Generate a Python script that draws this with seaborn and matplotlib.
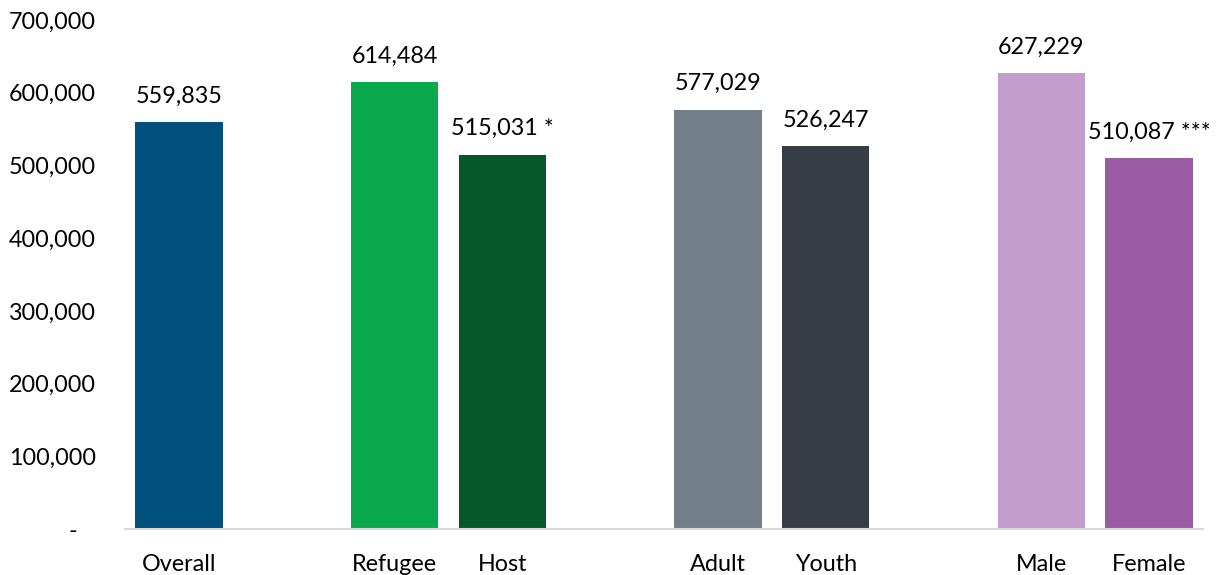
import matplotlib
matplotlib.use("Agg")
import matplotlib.pyplot as plt
import seaborn as sns
import pandas as pd
import numpy as np

# Groups, separated by empty slots
categories = ["Overall", " ", "Refugee", "Host", "  ", "Adult", "Youth", "   ", "Male", "Female"]
values = [559835, np.nan, 614484, 515031, np.nan, 577029, 526247, np.nan, 627229, 510087]
significance = ["", "", "", " *", "", "", "", "", "", " ***"]
colors = ["#00507E", "#FFFFFF", "#0BA94E", "#05582A", "#FFFFFF",
          "#737F88", "#363D45", "#FFFFFF", "#C39DCB", "#9B5BA5"]
y_ticks = [0, 100000, 200000, 300000, 400000, 500000, 600000, 700000]

sns.set_theme(style="white")
plt.rcParams["font.family"] = ["Lato", "DejaVu Sans"]
FS = 16.8

df = pd.DataFrame({"group": categories, "value": values})
palette = dict(zip(categories, colors))

fig = plt.figure(figsize=(12.27, 5.75), dpi=100)
ax = fig.add_axes([0.1019, 0.080, 0.8785, 0.885])

sns.barplot(data=df, x="group", y="value", hue="group", palette=palette,
            order=categories, hue_order=categories, width=0.81,
            legend=False, saturation=1, linewidth=0, ax=ax)

ax.set_xlim(-0.5, 9.5)
ax.set_ylim(0, 700000)
ax.set_yticks(y_ticks)
ax.set_yticklabels(["-   "] + [f"{v:,}" for v in y_ticks[1:]], fontsize=FS, color="black")
ax.tick_params(axis="y", length=0, pad=21)
ax.tick_params(axis="x", length=0, pad=18, labelsize=FS, labelcolor="black")
ax.set_xlabel("")
ax.set_ylabel("")

for side in ["left", "right", "top"]:
    ax.spines[side].set_visible(False)
ax.spines["bottom"].set_color("#D9D9D9")
ax.spines["bottom"].set_linewidth(1.5)

for i, (v, s) in enumerate(zip(values, significance)):
    if np.isnan(v):
        continue
    ax.annotate(f"{v:,.0f}{s}", xy=(i, v), xytext=(0, 11), textcoords="offset points",
                ha="center", va="bottom", fontsize=FS, color="black", annotation_clip=False)

fig.savefig("out.png", dpi=100)
